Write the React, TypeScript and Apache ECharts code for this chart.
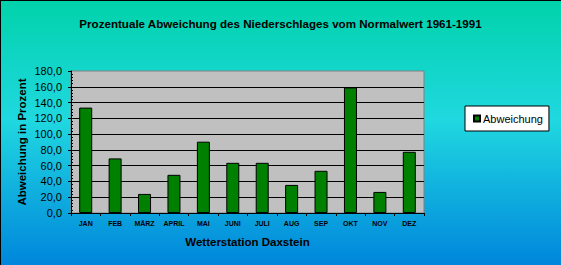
import React, { useEffect, useRef } from "react";
import * as echarts from "echarts";

const categories = ["JAN", "FEB", "MÄRZ", "APRIL", "MAI", "JUNI", "JULI", "AUG", "SEP", "OKT", "NOV", "DEZ"];
const abweichung = [133.6, 69.2, 24.2, 48.4, 90.4, 63.6, 63.6, 35.6, 53.5, 159.1, 26.7, 77.6];
const seriesName = "Abweichung";
const titleText = "Prozentuale Abweichung des Niederschlages vom Normalwert 1961-1991";
const xAxisName = "Wetterstation Daxstein";
const yAxisName = "Abweichung in Prozent";
const yMin = 0;
const yMax = 180;
const yStep = 20;

const FONT = 'Arial, "Liberation Sans", sans-serif';

export default function App() {
  const ref = useRef<HTMLDivElement>(null);
  useEffect(() => {
    document.body.style.margin = "0";
    const chart = echarts.init(ref.current!, null, { renderer: "svg" });
    const yCommon = {
      type: "value" as const,
      min: yMin,
      max: yMax,
      interval: yStep,
      position: "left" as const,
    };
    chart.setOption({
      animation: false,
      backgroundColor: {
        type: "linear",
        x: 0, y: 0, x2: 0, y2: 1,
        colorStops: [
          { offset: 0, color: "#00d2aa" },
          { offset: 0.45, color: "#20d8e0" },
          { offset: 1, color: "#0086dc" },
        ],
      },
      title: {
        text: titleText,
        left: "center",
        top: 12,
        textStyle: { fontFamily: FONT, fontSize: 11.6, fontWeight: "bold", color: "#000" },
      },
      legend: {
        left: 465,
        top: 106,
        orient: "vertical",
        backgroundColor: "#fff",
        borderColor: "#000",
        borderWidth: 1,
        borderRadius: 0,
        padding: [7, 6, 7, 8],
        itemWidth: 6,
        itemHeight: 6,
        itemGap: 0,
        icon: "rect",
        textStyle: { fontFamily: FONT, fontSize: 11, color: "#000", padding: [0, 0, 0, -2] },
        data: [seriesName],
      },
      grid: {
        left: 71,
        top: 71,
        right: 137,
        bottom: 52,
        show: true,
        backgroundColor: "#c0c0c0",
        borderColor: "#808080",
        borderWidth: 1,
      },
      xAxis: {
        type: "category",
        data: categories,
        name: xAxisName,
        nameLocation: "middle",
        nameGap: 23,
        nameMoveOverlap: false,
        nameTextStyle: { fontFamily: FONT, fontSize: 11.5, fontWeight: "bold", color: "#000" },
        axisLine: { lineStyle: { color: "#000", width: 1 } },
        axisTick: { show: true, length: 3, lineStyle: { color: "#000" } },
        axisLabel: { fontFamily: FONT, fontSize: 7, fontWeight: "bold", color: "#000", margin: 7, interval: 0 },
      },
      yAxis: [
        {
          ...yCommon,
          name: yAxisName,
          nameLocation: "middle",
          nameGap: 43,
          nameMoveOverlap: false,
          nameTextStyle: { fontFamily: FONT, fontSize: 11.5, fontWeight: "bold", color: "#000" },
          axisLine: { show: true, lineStyle: { color: "#000", width: 1 } },
          axisTick: { show: true, length: 3, lineStyle: { color: "#000" } },
          axisLabel: {
            fontFamily: FONT,
            fontSize: 11,
            color: "#000",
            margin: 9,
            formatter: (v: number) => v.toFixed(1).replace(".", ","),
          },
          splitLine: { show: true, showMaxLine: false, lineStyle: { color: "#000", width: 1 } },
        },
        {
          ...yCommon,
          axisLine: { show: false },
          axisTick: { show: false, inside: true },
          axisLabel: { show: false },
          splitLine: { show: false },
          minorTick: { show: true, splitNumber: 5, length: 2, lineStyle: { color: "#000", width: 1 } },
        },
      ],
      series: [
        {
          name: seriesName,
          type: "bar",
          data: abweichung,
          barWidth: 13,
          itemStyle: { color: "#008000", borderColor: "#000", borderWidth: 1 },
        },
      ],
      graphic: [
        { type: "rect", shape: { x: 0, y: 0, width: 561, height: 1 }, style: { fill: "#000" }, silent: true },
        { type: "rect", shape: { x: 0, y: 0, width: 1, height: 265 }, style: { fill: "#000" }, silent: true },
      ],
    });
    return () => chart.dispose();
  }, []);
  return <div ref={ref} style={{ width: 561, height: 265, position: "absolute", left: 0, top: 0 }} />;
}
